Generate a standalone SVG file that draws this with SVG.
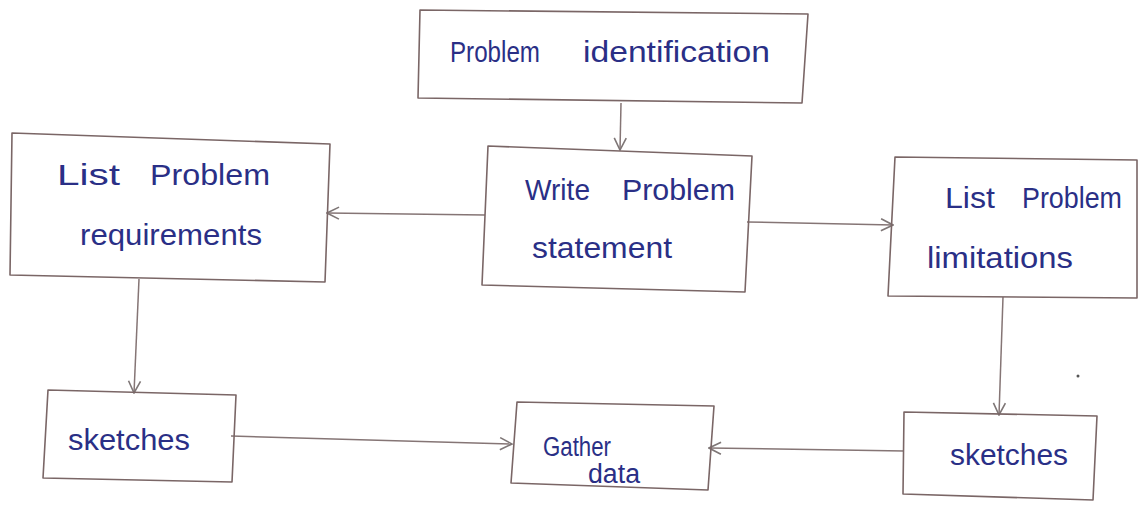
<svg xmlns="http://www.w3.org/2000/svg" width="1139" height="506" viewBox="0 0 1139 506">
  <style>
    .box { fill: none; stroke: #7a6666; stroke-width: 1.6; stroke-linejoin: round; }
    .link { fill: none; stroke: #857575; stroke-width: 1.5; }
    .lbl { font-family: "Liberation Sans", "DejaVu Sans", sans-serif; font-size: 30px; fill: #2a2f86; }
    .sm { font-size: 27px; }
  </style>
  <defs>
    <marker id="vee" viewBox="0 0 14 14" refX="13" refY="7" markerWidth="14" markerHeight="14" markerUnits="userSpaceOnUse" orient="auto">
      <path d="M1,1 L13,7 L1,13" fill="none" stroke="#7e7676" stroke-width="1.6"/>
    </marker>
  </defs>
  <rect width="1139" height="506" fill="#ffffff"/>

  <!-- connectors -->
  <g id="connectors">
    <path class="link" d="M621,103 L620,150" marker-end="url(#vee)"/>
    <path class="link" d="M485,215 L327,213" marker-end="url(#vee)"/>
    <path class="link" d="M747,222 L893,225" marker-end="url(#vee)"/>
    <path class="link" d="M139,279 L134,393" marker-end="url(#vee)"/>
    <path class="link" d="M231,436 L512,444" marker-end="url(#vee)"/>
    <path class="link" d="M1003,297 L999,415" marker-end="url(#vee)"/>
    <path class="link" d="M904,451 L709,448" marker-end="url(#vee)"/>
  </g>

  <g id="problem-identification">
    <path class="box" d="M420,10 L808,14 L802,103 L418,98 Z"/>
    <text class="lbl" y="62"><tspan x="450" textLength="90" lengthAdjust="spacingAndGlyphs">Problem</tspan><tspan x="583" textLength="187" lengthAdjust="spacingAndGlyphs">identification</tspan></text>
  </g>

  <g id="write-statement">
    <path class="box" d="M488,146 L752,156 L745,292 L482,285 Z"/>
    <text class="lbl" y="200"><tspan x="525" textLength="65" lengthAdjust="spacingAndGlyphs">Write</tspan><tspan x="622" textLength="113" lengthAdjust="spacingAndGlyphs">Problem</tspan></text>
    <text class="lbl" x="532" y="258" textLength="140" lengthAdjust="spacingAndGlyphs">statement</text>
  </g>

  <g id="list-requirements">
    <path class="box" d="M12,133 L330,144 L325,282 L10,275 Z"/>
    <text class="lbl" y="185"><tspan x="57" textLength="63" lengthAdjust="spacingAndGlyphs">List</tspan><tspan x="150" textLength="120" lengthAdjust="spacingAndGlyphs">Problem</tspan></text>
    <text class="lbl" x="80" y="245" textLength="182" lengthAdjust="spacingAndGlyphs">requirements</text>
  </g>

  <g id="list-limitations">
    <path class="box" d="M895,157 L1137,160 L1137,298 L888,296 Z"/>
    <text class="lbl" y="208"><tspan x="945" textLength="50" lengthAdjust="spacingAndGlyphs">List</tspan><tspan x="1022" textLength="100" lengthAdjust="spacingAndGlyphs">Problem</tspan></text>
    <text class="lbl" x="927" y="268" textLength="146" lengthAdjust="spacingAndGlyphs">limitations</text>
  </g>

  <g id="sketches-left">
    <path class="box" d="M48,390 L236,395 L232,482 L43,478 Z"/>
    <text class="lbl" x="68" y="450" textLength="122" lengthAdjust="spacingAndGlyphs">sketches</text>
  </g>

  <g id="gather-data">
    <path class="box" d="M517,402 L714,406 L708,490 L511,483 Z"/>
    <text class="lbl sm" x="543" y="456" textLength="68" lengthAdjust="spacingAndGlyphs">Gather</text>
    <text class="lbl sm" x="588" y="483" textLength="52" lengthAdjust="spacingAndGlyphs">data</text>
  </g>

  <g id="sketches-right">
    <path class="box" d="M904,412 L1097,416 L1093,500 L903,494 Z"/>
    <text class="lbl" x="950" y="465" textLength="118" lengthAdjust="spacingAndGlyphs">sketches</text>
  </g>

  <circle cx="1078" cy="376" r="1.5" fill="#555555"/>
</svg>
